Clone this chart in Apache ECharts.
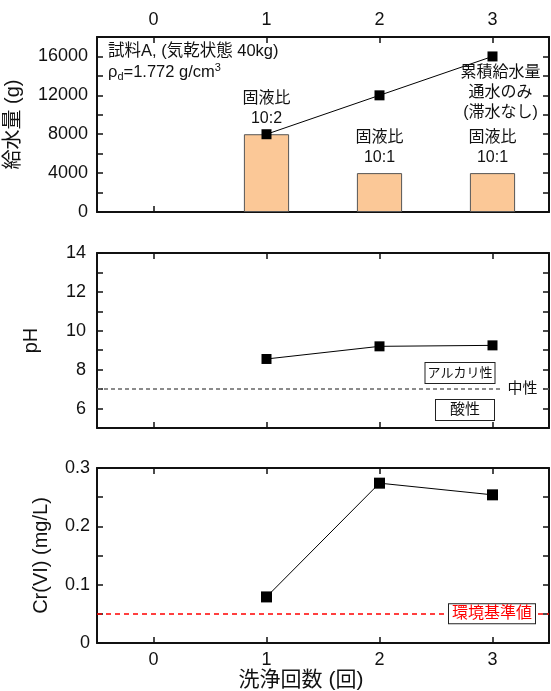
<!DOCTYPE html>
<html>
<head>
<meta charset="utf-8">
<script src="https://cdn.jsdelivr.net/npm/echarts@6/dist/echarts.min.js"></script>
<style>
  html, body { margin: 0; padding: 0; background: #fff; }
  #chart { width: 551px; height: 691px; }
</style>
</head>
<body>
<div id="chart"></div>
<script>
// Washing rounds (categories on every x axis)
const washCounts = ['0', '1', '2', '3'];

// Water supplied per round (bars) and the running total (line), in g
const waterPerWash = [null, 8000, 4000, 4000];
const cumulativeWater = [null, 8000, 12000, 16000];
const ratioLabels = ['', '固液比\n10:2', '固液比\n10:1', '固液比\n10:1'];
const cumulativeLabel = '累積給水量\n通水のみ\n(滞水なし)';

// pH of the leachate
const phValues = [null, 8.55, 9.2, 9.25];
const neutralPh = 7;

// Hexavalent chromium concentration, mg/L
const cr6Values = [null, 0.079, 0.274, 0.254];
const envStandard = 0.05;

// Labelled tick values
const waterTickLabels = [0, 4000, 8000, 12000, 16000];
const phTickLabels = [6, 8, 10, 12, 14];
const crTickLabels = ['0', '0.1', '0.2', '0.3'];

const FONT = '"Liberation Sans", Arial, "Noto Sans CJK JP", sans-serif';
const INK = '#111';
const TICK_FONT = 18;

const chart = echarts.init(document.getElementById('chart'), null, { renderer: 'canvas' });

const gridBase = { left: 97, right: 2, height: 175, containLabel: false, outerBoundsMode: 'none' };
const grids = [
  Object.assign({ top: 37 }, gridBase),
  Object.assign({ top: 253 }, gridBase),
  Object.assign({ top: 468 }, gridBase)
];

function xAxis(gridIndex, position, showLabels, extra) {
  return Object.assign({
    type: 'category',
    gridIndex,
    position,
    data: washCounts,
    boundaryGap: true,
    axisLine: { show: true, onZero: false, lineStyle: { color: INK, width: 2 } },
    axisTick: { show: true, inside: true, alignWithLabel: true, length: 6, lineStyle: { color: INK, width: 1.5 } },
    axisLabel: { show: showLabels, color: INK, fontSize: TICK_FONT, fontFamily: FONT, margin: 8 },
    splitLine: { show: false }
  }, extra || {});
}

function yAxis(gridIndex, position, cfg, showLabels, extra) {
  return Object.assign({
    type: 'value',
    gridIndex,
    position,
    min: cfg.min,
    max: cfg.max,
    interval: cfg.interval,
    axisLine: { show: true, lineStyle: { color: INK, width: 2 } },
    axisTick: { show: true, inside: true, length: 6, lineStyle: { color: INK, width: 1.5 } },
    axisLabel: {
      show: showLabels, color: INK, fontSize: TICK_FONT, fontFamily: FONT, margin: cfg.margin,
      formatter: cfg.formatter
    },
    splitLine: { show: false }
  }, extra || {});
}

const waterCfg = {
  min: 0, max: 18000, interval: 2000, margin: 9,
  formatter: v => (waterTickLabels.indexOf(Math.round(v)) >= 0 ? String(Math.round(v)) : '')
};
const phCfg = {
  min: 5, max: 14, interval: 1, margin: 11,
  formatter: v => (phTickLabels.indexOf(Math.round(v)) >= 0 ? String(Math.round(v)) : '')
};
const crCfg = {
  min: 0, max: 0.3, interval: 0.05, margin: 7,
  formatter: v => {
    const s = String(Math.round(v * 100) / 100);
    return crTickLabels.indexOf(s) >= 0 ? s : '';
  }
};

const titleStyle = { color: INK, fontSize: 20, fontFamily: FONT };

const option = {
  animation: false,
  backgroundColor: '#fff',
  grid: grids,
  xAxis: [
    xAxis(0, 'bottom', false),
    xAxis(0, 'top', true),
    xAxis(1, 'bottom', false),
    xAxis(1, 'top', false),
    xAxis(2, 'bottom', true, {
      name: '洗浄回数 (回)',
      nameLocation: 'middle',
      nameGap: 26,
      nameTextStyle: Object.assign({}, titleStyle, { fontSize: 21, padding: [0, 44, 0, 0] })
    }),
    xAxis(2, 'top', false)
  ],
  yAxis: [
    yAxis(0, 'left', waterCfg, true, {
      name: '給水量 (g)', nameLocation: 'middle', nameGap: 74, nameTextStyle: titleStyle
    }),
    yAxis(0, 'right', waterCfg, false),
    yAxis(1, 'left', phCfg, true, {
      name: 'pH', nameLocation: 'middle', nameGap: 56, nameTextStyle: titleStyle
    }),
    yAxis(1, 'right', phCfg, false),
    yAxis(2, 'left', crCfg, true, {
      name: 'Cr(VI) (mg/L)', nameLocation: 'middle', nameGap: 46, nameTextStyle: titleStyle
    }),
    yAxis(2, 'right', crCfg, false)
  ],
  series: [
    {
      name: '給水量',
      type: 'bar',
      xAxisIndex: 0,
      yAxisIndex: 0,
      barWidth: '40%',
      itemStyle: { color: '#FBC897', borderColor: '#555', borderWidth: 1 },
      label: {
        show: true, position: 'top', distance: 6, color: INK,
        fontSize: 16, lineHeight: 20, fontFamily: FONT
      },
      data: waterPerWash.map((v, i) => ({
        value: v,
        label: { formatter: ratioLabels[i] }
      })),
      z: 2
    },
    {
      name: '累積給水量',
      type: 'line',
      xAxisIndex: 0,
      yAxisIndex: 0,
      symbol: 'rect',
      symbolSize: 10,
      itemStyle: { color: '#000' },
      lineStyle: { color: '#000', width: 1 },
      data: cumulativeWater.map((v, i) => (
        i === cumulativeWater.length - 1
          ? {
              value: v,
              label: {
                show: true, position: 'bottom', distance: 1, offset: [8, 0],
                formatter: cumulativeLabel, color: INK, fontSize: 16, lineHeight: 20,
                fontFamily: FONT
              }
            }
          : v
      )),
      z: 5
    },
    {
      name: 'pH',
      type: 'line',
      xAxisIndex: 2,
      yAxisIndex: 2,
      symbol: 'rect',
      symbolSize: 10,
      itemStyle: { color: '#000' },
      lineStyle: { color: '#000', width: 1 },
      data: phValues,
      markLine: {
        silent: true,
        symbol: ['none', 'none'],
        label: { show: false },
        lineStyle: { color: '#666', width: 1.5, type: [4, 3] },
        data: [{ yAxis: neutralPh }]
      },
      z: 5
    },
    {
      name: 'Cr(VI)',
      type: 'line',
      xAxisIndex: 4,
      yAxisIndex: 4,
      symbol: 'rect',
      symbolSize: 11,
      itemStyle: { color: '#000' },
      lineStyle: { color: '#000', width: 1 },
      data: cr6Values,
      markLine: {
        silent: true,
        symbol: ['none', 'none'],
        label: { show: false },
        lineStyle: { color: '#ff0000', width: 1.5, type: [5, 4] },
        data: [{ yAxis: envStandard }]
      },
      z: 5
    }
  ]
};

chart.setOption(option);

// Annotations placed against the axes once the layout is known
const yNeutral = chart.convertToPixel({ yAxisIndex: 2 }, neutralPh);
const yEnv = chart.convertToPixel({ yAxisIndex: 4 }, envStandard);

function boxedText(x, y, text, fontSize, color, padding) {
  return {
    type: 'text',
    x, y, z: 100,
    style: {
      text,
      align: 'center',
      verticalAlign: 'middle',
      fontSize,
      fontFamily: FONT,
      fill: color,
      backgroundColor: '#fff',
      borderColor: '#222',
      borderWidth: 1,
      padding: padding || [2, 5, 1, 5]
    }
  };
}

chart.setOption({
  graphic: [
    {
      type: 'text', x: 108, y: 51, z: 100,
      style: {
        text: '試料A, (気乾状態 40kg)', align: 'left', verticalAlign: 'middle',
        fontSize: 16.5, fontFamily: FONT, fill: INK
      }
    },
    {
      type: 'text', x: 108, y: 72, z: 100,
      style: {
        text: '{n|ρ}{s|d}{n|=1.772 g/cm}{p|3}',
        align: 'left', verticalAlign: 'middle',
        fontFamily: FONT, fill: INK,
        rich: {
          n: { fontSize: 16.5, lineHeight: 20, fontFamily: FONT, fill: INK },
          s: { fontSize: 11, lineHeight: 11, verticalAlign: 'bottom', fontFamily: FONT, fill: INK },
          p: { fontSize: 11, lineHeight: 11, verticalAlign: 'top', fontFamily: FONT, fill: INK }
        }
      }
    },
    boxedText(460, 373, 'アルカリ性', 13, INK, [4, 2, 3, 2]),
    boxedText(465, 410, '酸性', 15, INK, [3, 14, 2, 14]),
    {
      type: 'text', x: 522, y: yNeutral, z: 100,
      style: {
        text: '中性', align: 'center', verticalAlign: 'middle',
        fontSize: 15, fontFamily: FONT, fill: INK,
        backgroundColor: '#fff', padding: [2, 5, 2, 6]
      }
    },
    boxedText(492, yEnv, '環境基準値', 16, '#ff0000', [2, 3, 1, 3])
  ]
});
</script>
</body>
</html>
